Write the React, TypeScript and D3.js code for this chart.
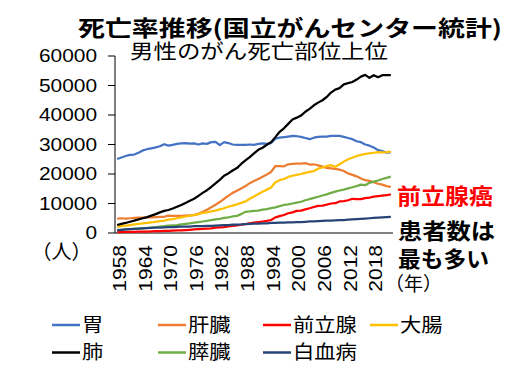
import React from "react";
import * as d3 from "d3";

// 男性 部位別がん死亡数（人）1958-2022
const years = d3.range(1958, 2023);

const stomach = [
  25100, 25600, 26100, 26500, 26600, 27200, 28000, 28400, 28700, 29000, 29400, 30100, 29600, 29900, 30200, 30400,
  30500, 30300, 30400, 30000, 30400, 30200, 30800, 30900, 29800, 30800, 30500, 30000, 29900, 29900, 29900, 30000,
  29900, 30200, 30400, 30200, 30500, 32000, 32300, 32500, 32700, 32900, 32800, 32600, 32200, 31800, 32300, 32600,
  32700, 32700, 32900, 32900, 32900, 32600, 32200, 31800, 31100, 30800, 30000, 29600, 29000, 28100, 27800, 27200, 27400,
];
const liver = [
  4900, 5000, 4900, 5000, 5100, 5200, 5200, 5300, 5300, 5400, 5500, 5500, 5900, 5800, 5800, 5800,
  5900, 6000, 6100, 6500, 7200, 7900, 8700, 9600, 10500, 11600, 12600, 13600, 14300, 15100, 15900, 16900,
  17600, 18300, 19100, 19800, 20700, 22700, 22700, 22600, 23300, 23400, 23500, 23500, 23700, 23200, 23300, 22900,
  22500, 22100, 21900, 21700, 21500, 21000, 20200, 19700, 19200, 18500, 17900, 17700, 17200, 16700, 16400, 15900, 15600,
];
const prostate = [
  300, 300, 350, 400, 400, 450, 500, 500, 550, 600, 650, 700, 750, 800, 850, 900,
  1000, 1100, 1200, 1300, 1400, 1500, 1600, 1800, 1900, 2000, 2200, 2400, 2600, 2800, 3000, 3300,
  3500, 3700, 3900, 4100, 4400, 5300, 5700, 6100, 6700, 7000, 7500, 7600, 8000, 8400, 8800, 9200,
  9300, 9600, 10000, 10100, 10700, 10800, 11100, 11600, 11500, 11500, 11800, 12000, 12300, 12500, 12700, 12800, 13100,
];
const colon = [
  2100, 2300, 2500, 2700, 2900, 3100, 3300, 3400, 3600, 3800, 4000, 4200, 4500, 4700, 5000, 5300,
  5600, 5900, 6100, 6400, 6800, 7000, 7300, 7600, 8000, 8400, 8900, 9300, 9700, 10200, 10700, 11600,
  12400, 13200, 14000, 14700, 15400, 17200, 17900, 18300, 19000, 19400, 19700, 20000, 20400, 20700, 21000, 21800,
  22200, 22700, 23000, 22400, 23300, 24200, 25000, 25500, 26100, 26500, 26800, 27000, 27200, 27400, 27300, 27400, 27600,
];
const lung = [
  2700, 3100, 3400, 3800, 4200, 4600, 5000, 5400, 5900, 6400, 7000, 7500, 7800, 8300, 8900, 9500,
  10200, 10900, 11600, 12600, 13600, 14500, 15600, 16800, 18000, 19400, 20200, 21200, 22000, 23400, 24600, 25700,
  27000, 28200, 28900, 29900, 30800, 32500, 34300, 35500, 37000, 38500, 39100, 39800, 41100, 42100, 43300, 44200,
  45000, 46100, 47600, 48600, 49100, 50400, 50800, 51200, 52000, 53000, 53600, 52600, 53500, 52800, 53500, 53500, 53500,
];
const pancreas = [
  1000, 1100, 1200, 1300, 1400, 1500, 1600, 1700, 1900, 2000, 2200, 2300, 2500, 2600, 2700, 2900,
  3100, 3300, 3500, 3700, 3900, 4100, 4400, 4600, 4800, 5100, 5300, 5600, 5800, 6400, 7200, 7300,
  7500, 7600, 7900, 8100, 8400, 8700, 9100, 9500, 9700, 10000, 10300, 10600, 11100, 11500, 11900, 12300,
  12700, 13100, 13600, 14000, 14400, 14700, 15100, 15500, 15900, 16400, 16200, 17000, 17400, 17800, 18300, 18700, 19100,
];
const leukemia = [
  1000, 1100, 1200, 1300, 1400, 1500, 1600, 1650, 1700, 1800, 1850, 1900, 1950, 2000, 2100, 2150,
  2200, 2200, 2300, 2300, 2350, 2400, 2400, 2500, 2600, 2650, 2700, 2800, 2850, 2900, 3000, 3100,
  3200, 3200, 3300, 3300, 3400, 3400, 3500, 3500, 3600, 3600, 3700, 3700, 3800, 3900, 3900, 4000,
  4100, 4200, 4200, 4300, 4400, 4400, 4500, 4600, 4700, 4800, 4900, 5000, 5100, 5200, 5300, 5400, 5500,
];

const seriesNames = ["胃", "肝臓", "前立腺", "大腸", "肺", "膵臓", "白血病"];
const seriesValues = [stomach, liver, prostate, colon, lung, pancreas, leukemia];
const seriesColors = ["#4472C4", "#ED7D31", "#FF0000", "#FFC000", "#000000", "#70AD47", "#264478"];

const yTicks = [0, 10000, 20000, 30000, 40000, 50000, 60000];
const xTickYears = [1958, 1964, 1970, 1976, 1982, 1988, 1994, 2000, 2006, 2012, 2018];

const W = 523;
const H = 368;
const plot = { left: 115, right: 393, top: 56, bottom: 233 };
const jp = "'Noto Sans CJK JP', sans-serif";
const num = "'Liberation Sans', Arial, sans-serif";
const sx = 1.16;

const App = () => {
  const x = d3.scaleLinear().domain([years[0] - 0.5, years[years.length - 1] + 0.5]).range([plot.left, plot.right]);
  const y = d3.scaleLinear().domain([0, 60000]).range([plot.bottom, plot.top]);

  const lineGen = d3
    .line<number>()
    .x((_, i) => x(years[i]))
    .y((v) => y(v));

  const legendCols = [52, 158, 263, 370];
  const legendRows = [325, 352.5];

  return (
    <svg width={W} height={H} style={{ position: "absolute", left: 0, top: 0, background: "#fff" }}>
      <rect width={W} height={H} fill="#fff" />

      <text x={78} y={35.5} fontFamily={jp} fontWeight={700} fontSize={22} textLength={424} lengthAdjust="spacingAndGlyphs">
        死亡率推移(国立がんセンター統計)
      </text>
      <text x={130} y={58.5} fontFamily={jp} fontSize={20} textLength={258} lengthAdjust="spacingAndGlyphs">
        男性のがん死亡部位上位
      </text>

      {/* y axis */}
      <line x1={plot.left} x2={plot.left} y1={plot.top} y2={plot.bottom} stroke="#000" strokeWidth={1} />
      {yTicks.map((t) => (
        <g key={t}>
          <line x1={plot.left - 7} x2={plot.left} y1={y(t)} y2={y(t)} stroke="#000" strokeWidth={1} />
          <text
            transform={`translate(97,${y(t)}) scale(${sx},1)`}
            dy="0.36em"
            textAnchor="end"
            fontFamily={num}
            fontSize={18}
          >
            {t}
          </text>
        </g>
      ))}

      {/* x axis */}
      <line x1={plot.left} x2={plot.right} y1={plot.bottom} y2={plot.bottom} stroke="#000" strokeWidth={1} />
      {xTickYears.map((yr) => (
        <text
          key={yr}
          transform={`translate(${x(yr) + 8.7},245) rotate(-90) scale(1.2,1)`}
          textAnchor="end"
          fontFamily={num}
          fontSize={17.5}
        >
          {yr}
        </text>
      ))}

      {/* series */}
      {seriesValues.map((vals, i) => (
        <path key={seriesNames[i]} d={lineGen(vals) ?? ""} fill="none" stroke={seriesColors[i]} strokeWidth={2.25} strokeLinejoin="round" />
      ))}

      <text x={61.5} y={259} textAnchor="middle" fontFamily={jp} fontSize={20}>（人）</text>
      <text x={413.5} y={291} textAnchor="middle" fontFamily={jp} fontSize={19}>（年）</text>

      <text x={397} y={203.5} fontFamily={jp} fontWeight={700} fontSize={22} fill="#FF0000" textLength={96} lengthAdjust="spacingAndGlyphs">
        前立腺癌
      </text>
      <text x={398} y={238.5} fontFamily={jp} fontWeight={700} fontSize={22} textLength={97} lengthAdjust="spacingAndGlyphs">
        患者数は
      </text>
      <text x={398} y={266.5} fontFamily={jp} fontWeight={700} fontSize={22} textLength={91} lengthAdjust="spacingAndGlyphs">
        最も多い
      </text>

      {/* legend */}
      {seriesNames.map((name, i) => {
        const lx = legendCols[i % 4];
        const ly = legendRows[Math.floor(i / 4)];
        return (
          <g key={name}>
            <line x1={lx} x2={lx + 28} y1={ly} y2={ly} stroke={seriesColors[i]} strokeWidth={2.5} />
            <text x={lx + 30} y={ly + 6.5} fontFamily={jp} fontSize={19} textLength={name.length * 21.3} lengthAdjust="spacingAndGlyphs">
              {name}
            </text>
          </g>
        );
      })}
    </svg>
  );
};

export default App;
